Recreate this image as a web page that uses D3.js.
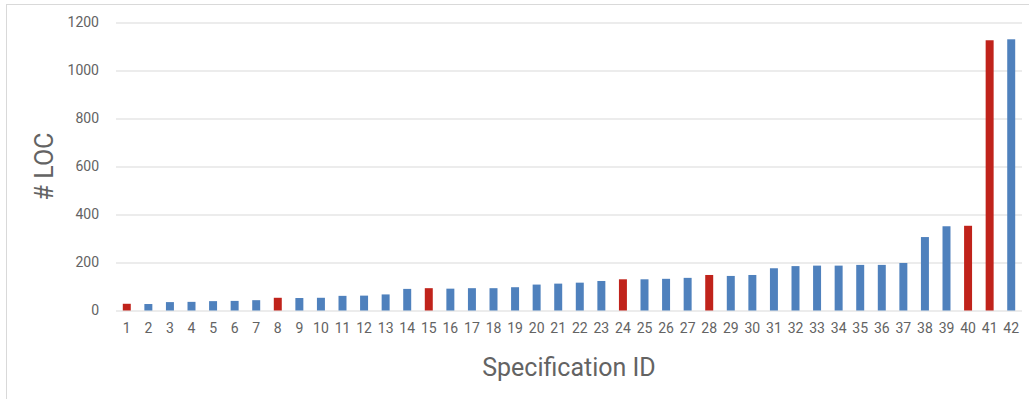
<!DOCTYPE html>
<html>
<head>
<meta charset="utf-8">
<script src="https://cdn.jsdelivr.net/npm/d3@7"></script>
<style>
    body { margin: 0; background: #fff; }
    text { font-family: Roboto, "Noto Sans", sans-serif; fill: #636363; }
</style>
</head>
<body>
<div id="chart"></div>
<script>
// spec ids and their LOC counts
const specIds = d3.range(1, 43).map(String);
const locValues = [28, 27, 35, 36, 39, 40, 43, 53, 52, 53,
                   61, 62, 67, 90, 93, 91, 93, 93, 97, 108,
                   112, 116, 123, 130, 130, 132, 136, 148, 144, 148,
                   176, 185, 187, 187, 190, 190, 198, 306, 351, 353,
                   1126, 1130];
const highlighted = ["1", "8", "15", "24", "28", "40", "41"];
const yTicks = [0, 200, 400, 600, 800, 1000, 1200];

const data = specIds.map((id, i) => ({ id: id, loc: locValues[i] }));

const width = 1029, height = 399;
const plot = { left: 116, right: 1022, top: 22.5, bottom: 310.5 };

const svg = d3.select("#chart")
    .append("svg")
    .attr("width", width)
    .attr("height", height);

// chart area border
svg.append("rect")
    .attr("x", 6.5)
    .attr("y", 4.5)
    .attr("width", 1100)
    .attr("height", 500)
    .style("fill", "none")
    .style("stroke", "#d9d9d9");

const xScale = d3.scaleBand()
    .domain(specIds)
    .range([plot.left, plot.right])
    .paddingInner(0.63)
    .paddingOuter(0.315);

const yScale = d3.scaleLinear()
    .domain([0, 1200])
    .range([plot.bottom, plot.top]);

// gridlines + y labels
const yAxis = svg.append("g")
    .attr("transform", "translate(" + plot.left + ",0)")
    .call(d3.axisLeft(yScale)
        .tickValues(yTicks)
        .tickFormat(d3.format("d"))
        .tickSize(-(plot.right - plot.left))
        .tickPadding(17));
yAxis.select(".domain").remove();
yAxis.selectAll(".tick line").style("stroke", "#d9d9d9");
yAxis.selectAll(".tick text")
    .style("font-size", "14px")
    .style("font-family", "Roboto, sans-serif")
    .attr("fill", "#636363");

svg.selectAll(".bar")
    .data(data)
    .enter()
    .append("rect")
        .attr("class", "bar")
        .attr("x", d => xScale(d.id))
        .attr("y", d => yScale(d.loc))
        .attr("width", xScale.bandwidth())
        .attr("height", d => yScale(0) - yScale(d.loc))
        .style("fill", d => highlighted.includes(d.id) ? "#c0231b" : "#4f81bd");

// x labels
const xAxis = svg.append("g")
    .attr("transform", "translate(0," + plot.bottom + ")")
    .call(d3.axisBottom(xScale).tickSize(0).tickPadding(13));
xAxis.select(".domain").remove();
xAxis.selectAll(".tick text")
    .style("font-size", "14px")
    .style("font-family", "Roboto, sans-serif")
    .attr("fill", "#636363");

// axis titles
svg.append("text")
    .attr("x", (plot.left + plot.right) / 2)
    .attr("y", 376)
    .attr("text-anchor", "middle")
    .style("font-size", "25px")
    .text("Specification ID");

svg.append("text")
    .attr("transform", "translate(53," + (plot.top + plot.bottom) / 2 + ") rotate(-90)")
    .attr("text-anchor", "middle")
    .style("font-size", "25px")
    .text("# LOC");
</script>
</body>
</html>
